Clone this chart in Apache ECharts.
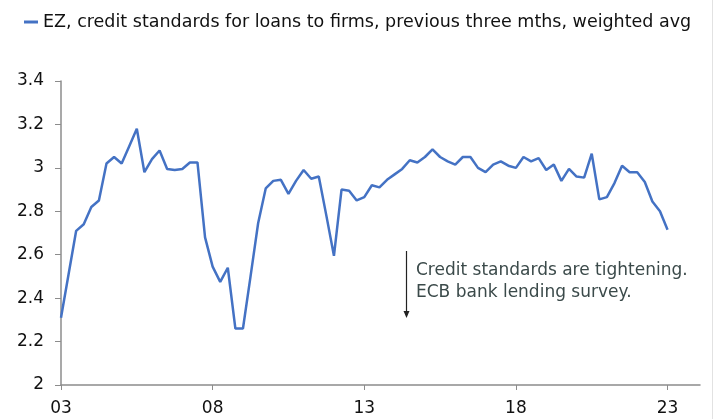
<!DOCTYPE html>
<html>
<head>
<meta charset="utf-8">
<script src="https://cdn.jsdelivr.net/npm/echarts@6/dist/echarts.min.js"></script>
<style>
html,body{margin:0;padding:0;background:#fff;}
#chart{width:720px;height:419px;}
</style>
</head>
<body>
<div id="chart"></div>
<script>
// Quarters 2003Q1 .. 2023Q1
const quarters = [];
for (let y = 2003; y <= 2023; y++) {
  for (let q = 1; q <= 4; q++) {
    if (y === 2023 && q > 1) break;
    quarters.push(y + 'Q' + q);
  }
}
const seriesName = 'EZ, credit standards for loans to firms, previous three mths, weighted avg';
const creditStandards = [
  2.31, 2.51, 2.71, 2.74, 2.82, 2.85, 3.02, 3.05, 3.02, 3.10,
  3.18, 2.98, 3.04, 3.08, 2.995, 2.99, 2.995, 3.025, 3.025, 2.68,
  2.545, 2.475, 2.54, 2.26, 2.26, 2.50, 2.745, 2.905, 2.94, 2.945,
  2.88, 2.94, 2.99, 2.95, 2.96, 2.78, 2.595, 2.90, 2.895, 2.85,
  2.865, 2.92, 2.91, 2.945, 2.97, 2.995, 3.035, 3.025, 3.05, 3.085,
  3.05, 3.03, 3.015, 3.05, 3.05, 3.0, 2.98, 3.015, 3.03, 3.01,
  3.0, 3.05, 3.03, 3.045, 2.99, 3.015, 2.94, 2.995, 2.96, 2.955,
  3.065, 2.855, 2.865, 2.93, 3.01, 2.98, 2.98, 2.935, 2.845, 2.8,
  2.715
];
const xTickYears = [2003, 2008, 2013, 2018, 2023];
const annotationLines = ['Credit standards are tightening.', 'ECB bank lending survey.'];

function quarterToNumber(s) {
  const y = parseInt(s.slice(0, 4), 10);
  const q = parseInt(s.slice(5), 10);
  return y + (q - 1) / 4;
}
const seriesData = quarters.map((q, i) => [quarterToNumber(q), creditStandards[i]]);

const chart = echarts.init(document.getElementById('chart'), null, {renderer: 'canvas'});
const FONT = 'DejaVu Sans';
chart.setOption({
  animation: false,
  backgroundColor: '#ffffff',
  textStyle: {fontFamily: FONT},
  legend: {
    left: 19, top: 8,
    icon: 'rect', itemWidth: 14, itemHeight: 3,
    textStyle: {fontFamily: FONT, fontSize: 17.5, color: '#111111'},
    data: [seriesName]
  },
  grid: {left: 61, right: 20, top: 81, bottom: 34},
  xAxis: {
    type: 'value',
    min: 2003, max: 2024.07,
    splitLine: {show: false},
    axisLine: {lineStyle: {color: '#8c8c8c', width: 1.5}},
    axisTick: {show: true, length: 5, lineStyle: {color: '#8c8c8c'}, customValues: xTickYears},
    axisLabel: {
      customValues: xTickYears,
      margin: 15, fontSize: 17, color: '#111111', fontFamily: FONT,
      formatter: v => String(Math.round(v)).slice(2)
    }
  },
  yAxis: {
    type: 'value',
    min: 2, max: 3.4, interval: 0.2,
    splitLine: {show: false},
    axisLine: {show: true, lineStyle: {color: '#8c8c8c', width: 1.5}},
    axisTick: {show: true, length: 6, lineStyle: {color: '#8c8c8c'}},
    axisLabel: {margin: 17, fontSize: 17, color: '#111111', fontFamily: FONT,
      formatter: v => String(Math.round(v * 10) / 10)}
  },
  series: [{
    name: seriesName,
    type: 'line',
    data: seriesData,
    showSymbol: false,
    symbol: 'none',
    lineStyle: {color: '#4472c4', width: 2.5},
    itemStyle: {color: '#4472c4'}
  }],
  graphic: [
    {type: 'line', shape: {x1: 406.5, y1: 251, x2: 406.5, y2: 312}, style: {stroke: '#222', lineWidth: 1.2}},
    {type: 'polygon', shape: {points: [[403.5, 311], [409.5, 311], [406.5, 318]]}, style: {fill: '#222'}},
    {type: 'text', left: 416, top: 262, style: {text: annotationLines[0], fontSize: 17, fontFamily: FONT, fill: '#3b4a4a'}},
    {type: 'text', left: 416, top: 284, style: {text: annotationLines[1], fontSize: 17, fontFamily: FONT, fill: '#3b4a4a'}},
    {type: 'line', shape: {x1: 712.5, y1: 0, x2: 712.5, y2: 419}, style: {stroke: '#e2e2e2', lineWidth: 1}}
  ]
});
</script>
</body>
</html>
